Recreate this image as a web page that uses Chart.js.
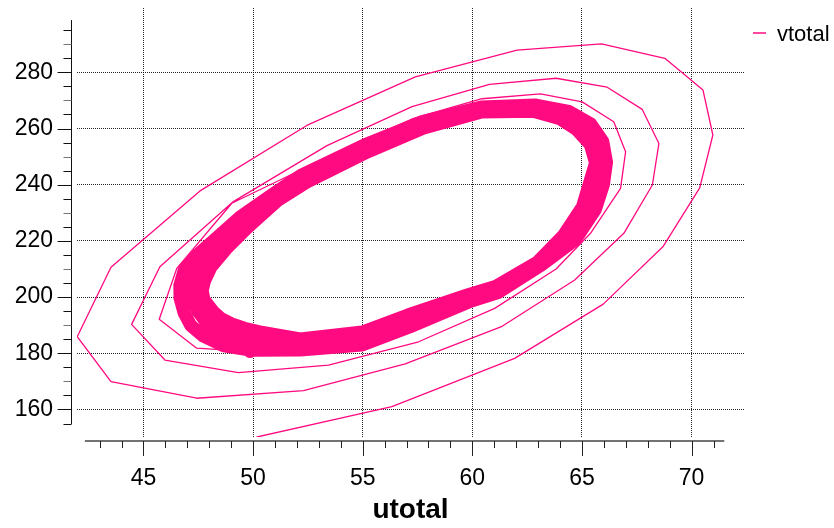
<!DOCTYPE html>
<html><head><meta charset="utf-8">
<script src="https://cdn.jsdelivr.net/npm/chart.js@4/dist/chart.umd.min.js"></script>
<style>html,body{margin:0;padding:0;background:#fff;}canvas{display:block;}</style>
</head><body>
<canvas id="c" width="834" height="528"></canvas>
<script>
const seriesName = 'vtotal';
const xTitle = 'utotal';
const xTicks = [45, 50, 55, 60, 65, 70];
const yTicks = [160, 180, 200, 220, 240, 260, 280];

// transient spiral (first three turns): utotal / vtotal
const spiralU = [50.18,56.33,61.93,65.97,68.69,70.37,70.97,70.52,68.78,65.89,62.04,57.40,52.45,47.58,43.52,41.98,43.52,47.43,52.30,56.94,61.36,64.67,66.91,68.21,68.51,67.75,66.15,63.82,60.78,57.25,53.37,49.10,45.75,44.46,45.98,49.33,53.44,57.55,61.02,63.82,65.39,66.76,66.99,66.45,65.01,63.11,60.44,57.32,53.52,49.03,46.52,45.72,47.43,49.86];
const spiralV = [150.2,161.0,178.2,197.5,217.9,238.9,257.7,273.7,285.0,290.1,287.9,278.4,261.1,237.8,210.6,185.9,169.9,164.0,166.7,176.2,189.6,206.1,222.7,239.9,254.7,266.8,274.7,277.9,275.7,267.8,253.9,234.0,210.8,190.3,177.6,173.1,175.8,184.1,196.0,210.0,222.7,238.7,251.7,262.4,269.5,272.3,270.6,263.6,250.3,233.4,210.2,192.1,181.8,180.6];

// limit-cycle turns (outer, middle, inner)
const cycleOuterU = [49.94,52.15,54.98,57.14,59.92,61.18,63.15,64.71,65.62,65.98,66.12,65.95,65.40,64.40,62.84,60.40,57.68,55.09,52.25,50.90,49.40,48.22,47.44,46.87,46.66,46.67,46.85,47.16,47.74,48.67];
const cycleOuterV = [181.07,181.17,182.95,189.36,198.51,201.64,211.42,220.5,231.32,240.04,248.01,255.44,261.67,266.12,268.4,267.65,262.35,254.2,243.63,236.62,228.47,220.32,214.91,209.86,204.16,199.56,194.47,189.89,186.09,182.67];
const cycleMidU = [50.09,52.15,54.98,57.10,59.86,61.12,63.06,64.43,65.32,65.66,65.87,65.66,65.07,64.20,62.81,60.41,57.72,55.14,52.33,51.00,49.57,48.49,47.76,47.33,47.17,47.21,47.51,47.85,48.38,49.13];
const cycleMidV = [184.38,183.13,185.27,191.5,199.68,202.7,211.96,221.21,231.71,240.25,247.9,254.84,260.71,264.8,267.3,266.76,261.25,252.88,242.21,235.44,226.55,218.72,212.85,207.86,203.24,199.32,194.7,191.14,188.29,185.8];
const cycleInnerU = [50.24,52.15,54.98,57.06,59.81,61.05,62.97,64.15,65.02,65.34,65.62,65.38,64.74,64.00,62.78,60.42,57.75,55.19,52.42,51.10,49.73,48.77,48.09,47.79,47.68,47.76,48.17,48.54,49.02,49.60];
const cycleInnerV = [187.69,185.09,187.58,193.63,200.85,203.77,212.49,221.92,232.1,240.46,247.79,254.23,259.75,263.49,266.19,265.87,260.11,251.57,240.78,234.27,224.66,217.12,210.78,205.87,202.31,199.09,194.93,192.38,190.5,188.93];

const lineColor = '#ff0a80';
const fontFamily = '"Liberation Sans", Arial, Helvetica, sans-serif';

const points = [];
function addPts(us, vs, close) {
  for (let i = 0; i < us.length; i++) points.push({x: us[i], y: vs[i]});
  if (close) points.push({x: us[0], y: vs[0]});
}
addPts(spiralU, spiralV, false);
const cycleStart = points.length - 1;
addPts(cycleOuterU, cycleOuterV, true);
addPts(cycleMidU, cycleMidV, true);
addPts(cycleInnerU, cycleInnerV, true);

const axesPlugin = {
  id: 'offsetAxes',
  afterDraw(chart) {
    const {ctx, chartArea: a, scales: {x, y}} = chart;
    ctx.save();
    ctx.lineWidth = 1;
    const ax = Math.round(a.left - 6) + 0.5;
    ctx.strokeStyle = '#111';
    ctx.beginPath();
    ctx.moveTo(ax, y.getPixelForValue(298.6));
    ctx.lineTo(ax, y.getPixelForValue(154.8));
    ctx.stroke();
    for (let v = 155; v <= 295; v += 5) {
      const py = Math.round(y.getPixelForValue(v)) + 0.5;
      const len = yTicks.includes(v) ? 14 : 8;
      ctx.strokeStyle = (v % 10 === 0 && !yTicks.includes(v)) ? '#777' : '#111';
      ctx.beginPath(); ctx.moveTo(ax - len, py); ctx.lineTo(ax, py); ctx.stroke();
    }
    const ay = Math.round(a.bottom + 4);
    ctx.strokeStyle = '#444';
    ctx.lineWidth = 1.5;
    ctx.beginPath();
    ctx.moveTo(x.getPixelForValue(42.33), ay);
    ctx.lineTo(x.getPixelForValue(71.49), ay);
    ctx.stroke();
    ctx.lineWidth = 1;
    ctx.strokeStyle = '#222';
    for (let u = 43; u <= 71; u++) {
      const px = Math.round(x.getPixelForValue(u)) + 0.5;
      const len = xTicks.includes(u) ? 15 : 7;
      ctx.beginPath(); ctx.moveTo(px, ay); ctx.lineTo(px, ay + len); ctx.stroke();
    }
    ctx.strokeStyle = lineColor;
    ctx.lineWidth = 1.5;
    ctx.beginPath(); ctx.moveTo(753, 33); ctx.lineTo(766, 33); ctx.stroke();
    ctx.fillStyle = '#000';
    ctx.font = '22px ' + fontFamily;
    ctx.textBaseline = 'middle';
    ctx.textAlign = 'left';
    ctx.fillText(chart.data.datasets[0].label, 777, 35);
    ctx.restore();
  }
};

new Chart(document.getElementById('c'), {
  type: 'scatter',
  data: {
    datasets: [{
      label: seriesName,
      data: points,
      showLine: true,
      pointRadius: 0,
      borderColor: lineColor,
      backgroundColor: lineColor,
      borderWidth: 1.3,
      borderJoinStyle: 'round',
      borderCapStyle: 'round',
      fill: false,
      tension: 0,
      segment: {
        borderWidth: ctx => ctx.p0DataIndex >= cycleStart ? 13 : 1.3
      }
    }]
  },
  options: {
    responsive: false,
    animation: false,
    devicePixelRatio: 1,
    layout: {padding: {top: 8, right: 90, bottom: 0, left: 0}},
    plugins: {legend: {display: false}, tooltip: {enabled: false}},
    scales: {
      x: {
        type: 'linear', min: 41.97, max: 72.39,
        afterBuildTicks: s => { s.ticks = xTicks.map(v => ({value: v})); },
        afterFit: s => { s.height = 91; s.paddingLeft = 0; s.paddingRight = 0; },
        grid: {color: 'rgba(0,0,0,0.85)', drawTicks: false, lineWidth: 1},
        border: {display: false, dash: [1, 1]},
        ticks: {padding: 28, color: '#000', font: {family: fontFamily, size: 23}},
        title: {display: true, text: xTitle, color: '#000', padding: {top: 0, bottom: 1},
                font: {family: fontFamily, size: 28, weight: 'bold'}}
      },
      y: {
        type: 'linear', min: 150.2, max: 302.9,
        afterBuildTicks: s => { s.ticks = yTicks.map(v => ({value: v})); },
        afterFit: s => { s.width = 77; s.paddingTop = 0; s.paddingBottom = 0; },
        grid: {color: 'rgba(0,0,0,0.85)', drawTicks: false, lineWidth: 1},
        border: {display: false, dash: [1, 1]},
        ticks: {padding: 24, color: '#000', font: {family: fontFamily, size: 23}}
      }
    }
  },
  plugins: [axesPlugin]
});
</script>
</body></html>
